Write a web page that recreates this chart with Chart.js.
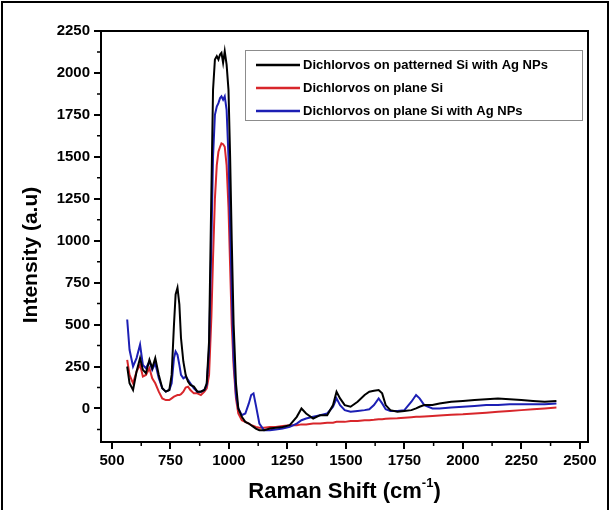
<!DOCTYPE html>
<html>
<head>
<meta charset="utf-8">
<script src="https://cdn.jsdelivr.net/npm/chart.js@4/dist/chart.umd.min.js"></script>
<style>
  html, body { margin: 0; padding: 0; background: #fff; }
  #wrap { width: 611px; height: 510px; position: relative; }
</style>
</head>
<body>
<div id="wrap"><canvas id="c" width="611" height="510"></canvas></div>
<script>
// Raman shift (cm-1)
const ramanShift = [565, 575, 590, 605, 620, 632, 645, 660, 672, 685, 700, 715, 730, 745, 755, 765, 772, 780, 788, 795,
  805, 815, 825, 835, 850, 865, 880, 895, 905, 915, 925, 932, 940, 948, 955, 962, 968, 975, 982, 990,
  998, 1005, 1012, 1020, 1030, 1040, 1055, 1070, 1085, 1095, 1105, 1115, 1130, 1150, 1175, 1200, 1230, 1260, 1290, 1310,
  1330, 1360, 1390, 1420, 1445, 1460, 1475, 1495, 1520, 1550, 1580, 1600, 1620, 1640, 1655, 1670, 1690, 1720, 1750, 1780,
  1800, 1815, 1835, 1870, 1900, 1950, 2000, 2050, 2100, 2150, 2200, 2250, 2300, 2350, 2400];

const patternedAg = [250, 150, 110, 220, 300, 230, 210, 290, 240, 300, 200, 120, 100, 110, 200, 500, 680, 720, 620, 420,
  280, 200, 160, 140, 130, 100, 100, 110, 150, 400, 1300, 1900, 2080, 2100, 2080, 2110, 2120, 2060, 2130, 2050,
  1900, 1500, 1000, 500, 150, 0, -50, -80, -90, -100, -110, -120, -130, -130, -120, -115, -110, -100, -50, 0,
  -30, -60, -40, -40, 20, 100, 60, 20, 10, 40, 80, 100, 105, 110, 90, 20, -10, -20, -15, -10,
  0, 10, 20, 20, 30, 40, 45, 50, 55, 60, 55, 50, 45, 40, 45];

const planeSi = [290, 200, 150, 220, 260, 190, 200, 240, 180, 150, 100, 60, 50, 50, 60, 70, 75, 80, 80, 85,
  100, 125, 130, 110, 90, 90, 80, 100, 120, 200, 550, 900, 1250, 1450, 1530, 1560, 1580, 1575, 1560, 1450,
  1200, 850, 500, 250, 60, -30, -70, -80, -90, -100, -105, -110, -115, -115, -110, -110, -105, -100, -100, -95,
  -95, -90, -90, -85, -85, -80, -80, -80, -75, -75, -70, -70, -68, -65, -65, -62, -60, -58, -55, -52,
  -50, -50, -48, -45, -42, -38, -35, -30, -25, -20, -15, -10, -5, 0, 5];

const planeAg = [530, 350, 250, 300, 380, 260, 240, 280, 230, 270, 180, 120, 100, 110, 150, 300, 340, 320, 260, 200,
  180, 190, 170, 150, 120, 100, 100, 110, 140, 350, 1000, 1500, 1750, 1800, 1820, 1850, 1860, 1840, 1860, 1780,
  1500, 1100, 700, 300, 80, 0, -40, -30, 30, 80, 90, 20, -90, -130, -130, -125, -120, -110, -90, -70,
  -60, -50, -40, -30, 10, 60, 20, -10, -20, -15, -10, -5, 20, 60, 30, -5, -15, -15, -10, 40,
  80, 60, 20, 0, 0, 5, 10, 15, 20, 20, 25, 25, 25, 25, 30];

const seriesNames = ['Dichlorvos on patterned Si with Ag NPs', 'Dichlorvos on plane Si', 'Dichlorvos on plane Si with Ag NPs'];
const seriesColors = ['#000000', '#d8262b', '#1c1fb4'];
const xTicks = [500, 750, 1000, 1250, 1500, 1750, 2000, 2250, 2500];
const yTicks = [0, 250, 500, 750, 1000, 1250, 1500, 1750, 2000, 2250];

const toPoints = ys => ramanShift.map((x, i) => ({ x: x, y: ys[i] }));

const FONT = '"Liberation Sans", Arial, sans-serif';

// frame, minor ticks, axis titles, boxed legend
const decor = {
  id: 'decor',
  afterDraw(chart) {
    const ctx = chart.ctx;
    const a = chart.chartArea;
    const xs = chart.scales.x, ys = chart.scales.y;
    ctx.save();
    ctx.strokeStyle = '#000';
    ctx.lineWidth = 2;
    ctx.strokeRect(a.left, a.top, a.right - a.left, a.bottom - a.top);

    // minor ticks
    ctx.lineWidth = 1.5;
    ctx.beginPath();
    for (let v = 625; v < 2535; v += 250) {
      const px = xs.getPixelForValue(v);
      ctx.moveTo(px, a.bottom);
      ctx.lineTo(px, a.bottom + 4);
    }
    for (let v = -125; v < 2250; v += 250) {
      const py = ys.getPixelForValue(v);
      ctx.moveTo(a.left, py);
      ctx.lineTo(a.left - 4, py);
    }
    ctx.stroke();

    // outer frame
    ctx.lineWidth = 2;
    ctx.beginPath();
    ctx.moveTo(2, 510);
    ctx.lineTo(2, 2);
    ctx.lineTo(608, 2);
    ctx.lineTo(608, 510);
    ctx.stroke();

    // axis titles
    ctx.fillStyle = '#000';
    ctx.textBaseline = 'middle';
    ctx.font = 'bold 22px ' + FONT;
    const main = 'Raman Shift (cm';
    const wMain = ctx.measureText(main).width;
    ctx.font = 'bold 13px ' + FONT;
    const sup = '-1';
    const wSup = ctx.measureText(sup).width;
    ctx.font = 'bold 22px ' + FONT;
    const wClose = ctx.measureText(')').width;
    let x0 = (a.left + a.right) / 2 - (wMain + wSup + wClose) / 2;
    const ty = 492;
    ctx.textAlign = 'left';
    ctx.fillText(main, x0, ty);
    ctx.font = 'bold 13px ' + FONT;
    ctx.fillText(sup, x0 + wMain, ty - 9);
    ctx.font = 'bold 22px ' + FONT;
    ctx.fillText(')', x0 + wMain + wSup, ty);

    ctx.save();
    ctx.translate(31, 255);
    ctx.rotate(-Math.PI / 2);
    ctx.textAlign = 'center';
    ctx.font = 'bold 21px ' + FONT;
    ctx.fillText('Intensity (a.u)', 0, 0);
    ctx.restore();

    // legend
    const lx = 245, ly = 50, lw = 337, lh = 70;
    ctx.strokeStyle = '#8c8c8c';
    ctx.lineWidth = 1;
    ctx.fillStyle = '#fff';
    ctx.fillRect(lx, ly, lw, lh);
    ctx.strokeRect(lx + 0.5, ly + 0.5, lw, lh);
    ctx.font = 'bold 13px ' + FONT;
    ctx.textAlign = 'left';
    seriesNames.forEach((name, i) => {
      const ry = 65 + i * 23;
      ctx.strokeStyle = seriesColors[i];
      ctx.lineWidth = 2.5;
      ctx.beginPath();
      ctx.moveTo(256, ry);
      ctx.lineTo(300, ry);
      ctx.stroke();
      ctx.fillStyle = '#000';
      ctx.fillText(name, 303, ry);
    });
    ctx.restore();
  }
};

new Chart(document.getElementById('c'), {
  type: 'line',
  data: {
    datasets: [
      { label: seriesNames[0], data: toPoints(patternedAg), borderColor: seriesColors[0], order: 0 },
      { label: seriesNames[1], data: toPoints(planeSi), borderColor: seriesColors[1], order: 2 },
      { label: seriesNames[2], data: toPoints(planeAg), borderColor: seriesColors[2], order: 1 }
    ]
  },
  options: {
    responsive: false,
    animation: false,
    layout: { padding: { left: 0, top: 31, right: 23, bottom: 0 } },
    elements: {
      point: { radius: 0 },
      line: { borderWidth: 2, tension: 0 }
    },
    plugins: {
      legend: { display: false },
      tooltip: { enabled: false }
    },
    scales: {
      x: {
        type: 'linear',
        min: 453,
        max: 2535,
        afterFit: s => { s.height = 68; },
        afterBuildTicks: s => { s.ticks = xTicks.map(v => ({ value: v })); },
        grid: { drawOnChartArea: false, color: '#000', lineWidth: 2, tickLength: 7 },
        border: { color: '#000', width: 2 },
        ticks: {
          color: '#000',
          font: { family: FONT, size: 15, weight: 'bold' },
          padding: 3,
          maxRotation: 0,
          callback: v => String(v)
        }
      },
      y: {
        min: -200,
        max: 2250,
        afterFit: s => { s.width = 101; },
        afterBuildTicks: s => { s.ticks = yTicks.map(v => ({ value: v })); },
        grid: { drawOnChartArea: false, color: '#000', lineWidth: 2, tickLength: 7 },
        border: { color: '#000', width: 2 },
        ticks: {
          color: '#000',
          font: { family: FONT, size: 15, weight: 'bold' },
          padding: 4,
          callback: v => String(v)
        }
      }
    }
  },
  plugins: [decor]
});
</script>
</body>
</html>
